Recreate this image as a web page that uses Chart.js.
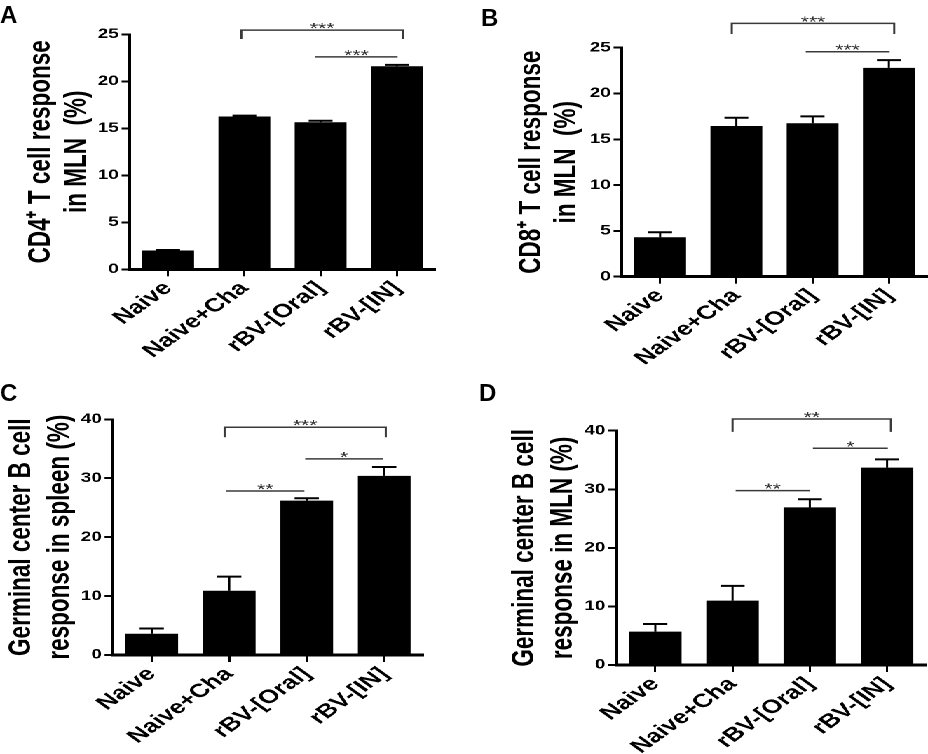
<!DOCTYPE html>
<html>
<head>
<meta charset="utf-8">
<script src="https://cdn.jsdelivr.net/npm/chart.js@4.4.1/dist/chart.umd.min.js"></script>
<style>
  html, body { margin: 0; padding: 0; background: #fff; }
  body { width: 928px; height: 754px; position: relative; overflow: hidden; }
  #fig { position: absolute; left: 0; top: 0; width: 662px; height: 754px; transform: scaleX(1.4018); transform-origin: 0 0; }
  #fig canvas { position: absolute; }
  .lbl { position: absolute; font: bold 24px Arial, Helvetica, sans-serif; color: #000; line-height: 24px; }
</style>
</head>
<body>
<div id="fig">
  <canvas id="chartA"></canvas>
  <canvas id="chartB"></canvas>
  <canvas id="chartC"></canvas>
  <canvas id="chartD"></canvas>
</div>
<div class="lbl" style="left:0px;top:3px">A</div>
<div class="lbl" style="left:481px;top:6px">B</div>
<div class="lbl" style="left:0px;top:381px">C</div>
<div class="lbl" style="left:479px;top:381px">D</div>
<script>
// groups on the x axis
const groups = ['Naive', 'Naive+Cha', 'rBV-[Oral]', 'rBV-[IN]'];

// mean and SEM
const cd4Mean = [2.0, 16.25, 15.65, 21.6];
const cd4Sem = [0.05, 0.1, 0.15, 0.15];
const cd8Mean = [4.3, 16.45, 16.75, 22.8];
const cd8Sem = [0.55, 0.9, 0.75, 0.85];
const gcSpleenMean = [3.6, 10.9, 26.2, 30.4];
const gcSpleenSem = [0.9, 2.4, 0.4, 1.5];
const gcMlnMean = [5.7, 11.0, 26.9, 33.7];
const gcMlnSem = [1.3, 2.5, 1.4, 1.4];

// y ticks
const ticks25 = [0, 5, 10, 15, 20, 25];
const ticks40 = [0, 10, 20, 30, 40];

// significance marks: [from group, to group, y, end of bracket (null = plain line), label]
const cd4Sig = [[0.96, 3.08, 25.45, 24.5, '***'], [1.93, 3.01, 22.6, null, '***']];
const cd8Sig = [[0.94, 3.07, 27.66, 26.5, '***'], [1.91, 3.01, 24.56, null, '***']];
const gcSpleenSig = [[0.94, 3.02, 38.66, 36.96, '***'], [1.98, 2.98, 33.28, null, '*'], [0.96, 1.97, 27.84, null, '**']];
const gcMlnSig = [[1.0, 3.05, 42.0, 39.8, '**'], [2.04, 3.01, 37.0, null, '*'], [1.04, 2.0, 29.76, null, '**']];

const S = 928 / 662; // the figure is stretched sideways
const FONT = "Arial, Helvetica, sans-serif";
Chart.defaults.font.family = FONT;

const sigPlugin = {
  id: 'sig',
  afterDatasetsDraw(chart, args, opts) {
    const { ctx, scales: { x, y } } = chart;
    const meta = chart.getDatasetMeta(0);
    const vals = chart.data.datasets[0].data;
    ctx.save();
    ctx.strokeStyle = '#000';
    meta.data.forEach((bar, i) => {
      const top = y.getPixelForValue(vals[i] + opts.sem[i]);
      const cap = bar.width * 0.23;
      ctx.lineWidth = 1.5;
      ctx.beginPath();
      ctx.moveTo(bar.x, bar.y);
      ctx.lineTo(bar.x, top);
      ctx.stroke();
      ctx.lineWidth = 2;
      ctx.beginPath();
      ctx.moveTo(bar.x - cap, top);
      ctx.lineTo(bar.x + cap, top);
      ctx.stroke();
    });
    ctx.strokeStyle = '#3a3a3a';
    ctx.fillStyle = '#333';
    ctx.lineWidth = 1.5;
    ctx.font = '15px ' + FONT;
    ctx.textAlign = 'center';
    ctx.textBaseline = 'alphabetic';
    opts.marks.forEach(([a, b, yv, tip, label]) => {
      const xa = x.getPixelForValue(a);
      const xb = x.getPixelForValue(b);
      const yy = y.getPixelForValue(yv);
      ctx.beginPath();
      if (tip !== null) {
        const yt = y.getPixelForValue(tip);
        ctx.moveTo(xa, yt);
        ctx.lineTo(xa, yy);
        ctx.lineTo(xb, yy);
        ctx.lineTo(xb, yt);
      } else {
        ctx.moveTo(xa, yy);
        ctx.lineTo(xb, yy);
      }
      ctx.stroke();
      ctx.fillText(label, (xa + xb) / 2, yy + 3);
    });
    ctx.restore();
  }
};

// panel boxes in screen pixels
function makePanel(id, box, mean, sem, yTicks, title, marks) {
  const w = 331, h = 377;
  const canvas = document.getElementById(id);
  canvas.width = w;
  canvas.height = h;
  canvas.style.width = w + 'px';
  canvas.style.height = h + 'px';
  canvas.style.left = (box.px / S) + 'px';
  canvas.style.top = box.py + 'px';

  const lh = box.gap / S;
  const padLeft = (box.t1 - box.px) / S - lh / 2;
  const yW = (box.left - box.px) / S - padLeft;
  const padRight = w - (box.right - box.px) / S;
  const padTop = box.top - box.py;
  const xH = h - (box.bottom - box.py);

  new Chart(canvas, {
    type: 'bar',
    data: {
      labels: groups,
      datasets: [{
        data: mean,
        backgroundColor: '#000',
        barPercentage: 0.68,
        categoryPercentage: 1
      }]
    },
    options: {
      responsive: false,
      animation: false,
      devicePixelRatio: 2,
      layout: { padding: { left: padLeft, right: padRight, top: padTop, bottom: 0 } },
      plugins: {
        legend: { display: false },
        tooltip: { enabled: false },
        sig: { sem: sem, marks: marks }
      },
      scales: {
        x: {
          offset: true,
          afterFit: s => { s.height = xH; s.paddingLeft = 0; s.paddingRight = 0; },
          grid: { display: true, drawOnChartArea: false, offset: false, tickLength: 7, color: '#000', lineWidth: 1.5 },
          border: { color: '#000', width: 3 },
          ticks: { font: { size: 19, weight: 'bold' }, color: '#000', minRotation: 45, maxRotation: 45, autoSkip: false, padding: 1 }
        },
        y: {
          min: 0,
          max: yTicks[yTicks.length - 1],
          afterBuildTicks: s => { s.ticks = yTicks.map(v => ({ value: v })); },
          afterFit: s => { s.width = yW; s.paddingTop = 0; s.paddingBottom = 0; },
          grid: { display: true, drawOnChartArea: false, tickLength: 6, color: '#000', lineWidth: 2 },
          border: { color: '#000', width: 2 },
          ticks: { font: { size: 13.5, weight: 'bold' }, color: '#000', padding: 2 },
          title: {
            display: true,
            text: title,
            color: '#000',
            padding: 0,
            font: { size: 22.5, weight: 'bold', lineHeight: lh / 22.5 }
          }
        }
      }
    },
    plugins: [sigPlugin]
  });
}

makePanel('chartA', { px: 0, py: 0, left: 130, right: 435, top: 34.3, bottom: 269.3, t1: 41, gap: 36 },
  cd4Mean, cd4Sem, ticks25, ['CD4\u207A T cell response', 'in MLN  (%)'], cd4Sig);
makePanel('chartB', { px: 464, py: 0, left: 622, right: 927, top: 47.7, bottom: 276.7, t1: 532, gap: 35 },
  cd8Mean, cd8Sem, ticks25, ['CD8\u207A T cell response', 'in MLN  (%)'], cd8Sig);
makePanel('chartC', { px: 0, py: 377, left: 113, right: 423, top: 419.3, bottom: 655, t1: 21.7, gap: 38 },
  gcSpleenMean, gcSpleenSem, ticks40, ['Germinal center B cell', 'response in spleen (%)'], gcSpleenSig);
makePanel('chartD', { px: 464, py: 377, left: 616.7, right: 925.7, top: 430.7, bottom: 665, t1: 525, gap: 38 },
  gcMlnMean, gcMlnSem, ticks40, ['Germinal center B cell', 'response in MLN (%)'], gcMlnSig);
</script>
</body>
</html>
